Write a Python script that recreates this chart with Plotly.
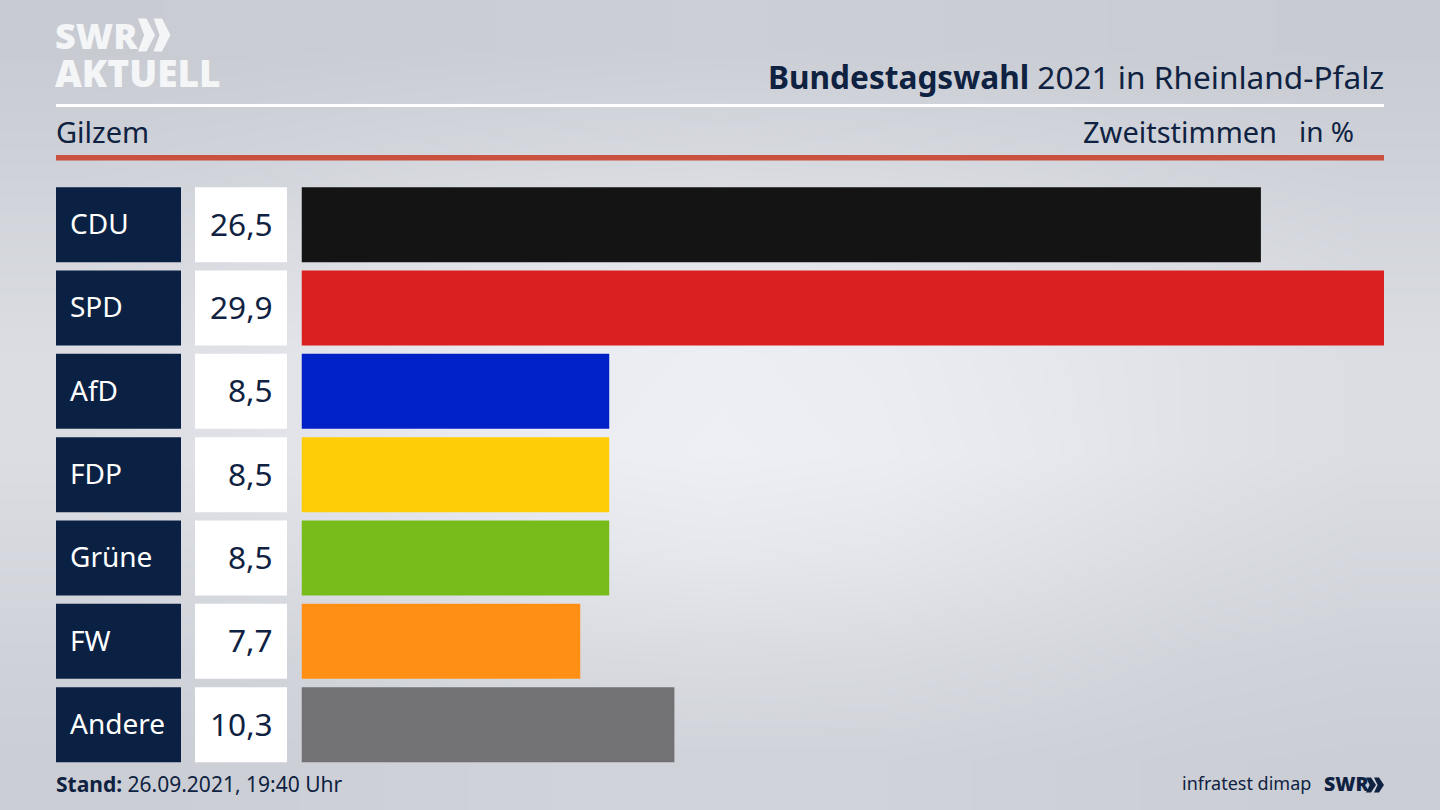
import plotly.graph_objects as go

# Election result
parties = ["CDU", "SPD", "AfD", "FDP", "Grüne", "FW", "Andere"]
values = [26.5, 29.9, 8.5, 8.5, 8.5, 7.7, 10.3]
bar_colors = ["#141414", "#d9201f", "#0021c8", "#ffcd07", "#78bc1b", "#ff9015", "#727274"]

# Grey levels of the backdrop, sampled by eye (rows top to bottom)
bg_levels = [
    [200, 201, 202, 203, 204, 203, 202, 201, 200],
    [206, 208, 211, 213, 214, 213, 211, 208, 206],
    [213, 217, 222, 226, 228, 226, 222, 217, 213],
    [219, 224, 230, 235, 237, 235, 230, 224, 219],
    [219, 224, 231, 236, 238, 236, 231, 224, 219],
    [213, 217, 223, 228, 230, 228, 223, 217, 213],
    [207, 209, 213, 216, 217, 216, 213, 209, 207],
    [203, 204, 206, 208, 208, 208, 206, 204, 203],
]

W, H = 1440, 810
NAVY = "#0b2143"
TEXT = "#0f2241"
FONT = "Noto Sans"
LOGO = "#f4f5f7"


def px(x):
    return x / W


def py(y):
    return 1 - y / H


fig = go.Figure()

# backdrop, lives on the first axes so it stays under everything
fig.add_trace(go.Heatmap(
    z=bg_levels, colorscale=[[0, "rgb(200,203,210)"], [1, "rgb(238,239,244)"]],
    zmin=200, zmax=238, zsmooth="best", showscale=False, hoverinfo="skip",
    xaxis="x", yaxis="y",
))

# the three columns: party name, number, bar
fig.add_trace(go.Bar(x=[1] * len(parties), y=parties, orientation="h", marker_color=NAVY,
                     marker_line_width=0, xaxis="x3", yaxis="y2", hoverinfo="skip"))
fig.add_trace(go.Bar(x=[1] * len(parties), y=parties, orientation="h", marker_color="white",
                     marker_line_width=0, xaxis="x4", yaxis="y2", hoverinfo="skip"))
fig.add_trace(go.Bar(x=values, y=parties, orientation="h", marker_color=bar_colors,
                     marker_line_width=0, xaxis="x2", yaxis="y2"))

annotations = []


def label(x, y, text, size, color=TEXT, anchor="left", yref="paper", family=FONT, yshift=0,
          weight=None, height=None):
    font = dict(size=size, color=color, family=family)
    if weight:
        font["weight"] = weight
    note = dict(x=x, y=y, xref="paper", yref=yref, text=text, showarrow=False,
                xanchor=anchor, yanchor="middle", align=anchor, font=font,
                borderpad=0, borderwidth=0, yshift=yshift)
    if height:
        note["height"] = height
    annotations.append(note)


for party, val in zip(parties, values):
    label(px(70), party, party, 28, color="white", yref="y2", yshift=1.5)
    label(px(273), party, f"{val:.1f}".replace(".", ","), 31.6, anchor="right", yref="y2", yshift=1.5)

label(px(1384), py(76), "<b>Bundestagswahl</b> 2021 in Rheinland-Pfalz", 31.6, anchor="right")
label(px(56), py(131), "Gilzem", 29)
label(px(1277), py(131), "Zweitstimmen", 29, anchor="right")
label(px(1354), py(131), "in %", 28, anchor="right")
label(px(56), py(784), "<b>Stand:</b> 26.09.2021, 19:40 Uhr", 21)
label(px(1311), py(783), "infratest dimap", 18, anchor="right")

# logos
label(px(55), py(35), "SWR", 36, color=LOGO, family="Open Sans", weight=800, height=32)
label(px(55), py(72), "AKTUELL", 37, color=LOGO, family="Open Sans", weight=800, height=32)
label(px(1324), py(783), "SWR", 19.5, family="Open Sans", weight=800)


def chevron(x, y, w, h):
    # points are pixels on the page, notch kept shallow so the arrows read as solid
    pts = [(x, y), (x + w * 0.5, y), (x + w, y + h / 2), (x + w * 0.5, y + h), (x, y + h),
           (x + w * 0.36, y + h / 2)]
    return "M " + " L ".join(f"{px(a):.5f},{py(b):.5f}" for a, b in pts) + " Z"


shapes = [
    dict(type="rect", xref="paper", yref="paper", x0=px(56), x1=px(1384), y0=py(107), y1=py(104),
         fillcolor="white", line_width=0),
    dict(type="rect", xref="paper", yref="paper", x0=px(56), x1=px(1384), y0=py(160.5), y1=py(155),
         fillcolor="#c9513e", line_width=0),
]
for cx, cy, cw, ch, col in [(138, 18.5, 17, 33, LOGO), (153.5, 18.5, 17, 33, LOGO),
                            (1366, 777.5, 10, 15, TEXT), (1374, 777.5, 10, 15, TEXT)]:
    shapes.append(dict(type="path", xref="paper", yref="paper", path=chevron(cx, cy, cw, ch),
                       fillcolor=col, line_width=0))

hidden = dict(visible=False, showgrid=False, zeroline=False)
fig.update_layout(
    width=W, height=H, margin=dict(l=0, r=0, t=0, b=0),
    paper_bgcolor="#d8dae0", plot_bgcolor="rgba(0,0,0,0)",
    showlegend=False, barmode="overlay", bargap=0.1,
    font=dict(family=FONT, color=TEXT),
    xaxis=dict(domain=[0, 1], **hidden),
    yaxis=dict(domain=[0, 1], autorange="reversed", **hidden),
    xaxis2=dict(domain=[px(301.5), px(1384)], range=[0, max(values)], anchor="y2", **hidden),
    xaxis3=dict(domain=[px(56), px(181)], range=[0, 1], anchor="y2", **hidden),
    xaxis4=dict(domain=[px(195), px(287)], range=[0, 1], anchor="y2", **hidden),
    yaxis2=dict(domain=[py(766.3), py(183)], range=[6.5, -0.5], anchor="x2", type="category",
                categoryorder="array", categoryarray=parties, **hidden),
    annotations=annotations, shapes=shapes,
)

fig.write_html("out.html", config=dict(displayModeBar=False),
               post_script="document.body.style.margin='0';document.body.style.overflow='hidden';")
